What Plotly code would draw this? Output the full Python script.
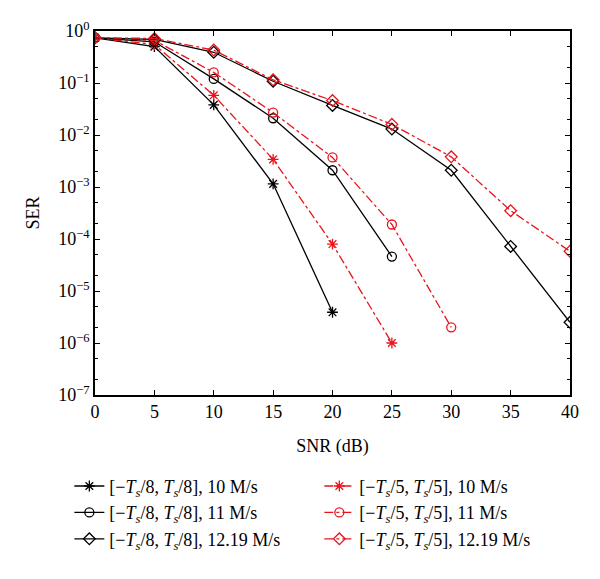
import plotly.graph_objects as go

snr = [0, 5, 10, 15, 20, 25, 30, 35, 40]

ser_b10 = [0.74, 0.50, 0.038, 1.15e-3, 3.9e-6]
ser_b11 = [0.74, 0.62, 0.12, 0.021, 2.1e-3, 4.6e-5]
ser_b12 = [0.74, 0.69, 0.39, 0.108, 0.037, 0.013, 2.1e-3, 7.2e-5, 2.5e-6]
ser_r10 = [0.74, 0.55, 0.058, 3.4e-3, 8.0e-5, 1.0e-6]
ser_r11 = [0.74, 0.66, 0.16, 0.027, 3.7e-3, 1.9e-4, 2.0e-6]
ser_r12 = [0.74, 0.72, 0.43, 0.115, 0.046, 0.016, 3.8e-3, 3.5e-4, 5.8e-5]

name_b = "[−<i>T</i><sub><i>s</i></sub>/8, <i>T</i><sub><i>s</i></sub>/8], "
name_r = "[−<i>T</i><sub><i>s</i></sub>/5, <i>T</i><sub><i>s</i></sub>/5], "
rates = ["10 M/s", "11 M/s", "12.19 M/s"]

ytick_vals = [1e0, 1e-1, 1e-2, 1e-3, 1e-4, 1e-5, 1e-6, 1e-7]
ytick_text = ["10<sup>0</sup>", "10<sup>−1</sup>", "10<sup>−2</sup>", "10<sup>−3</sup>",
              "10<sup>−4</sup>", "10<sup>−5</sup>", "10<sup>−6</sup>", "10<sup>−7</sup>"]

RED = "#e8141c"
FONT = "Liberation Serif"

fig = go.Figure()

series = [
    (ser_b10, "black", "solid", "asterisk-open", name_b + rates[0]),
    (ser_r10, RED, "dashdot", "asterisk-open", name_r + rates[0]),
    (ser_b11, "black", "solid", "circle-open", name_b + rates[1]),
    (ser_r11, RED, "dashdot", "circle-open", name_r + rates[1]),
    (ser_b12, "black", "solid", "diamond-open", name_b + rates[2]),
    (ser_r12, RED, "dashdot", "diamond-open", name_r + rates[2]),
]

for ys, col, dash, sym, nm in series:
    fig.add_trace(go.Scatter(
        x=snr[:len(ys)], y=ys, mode="lines+markers", name=nm,
        line=dict(color=col, width=1.3, dash=dash),
        marker=dict(symbol=sym, size=9, color=col, line=dict(color=col, width=1.3)),
    ))

fig.update_layout(
    width=592, height=571,
    margin=dict(l=87, r=30, t=23, b=184, autoexpand=False),
    paper_bgcolor="white", plot_bgcolor="white",
    font=dict(family=FONT, size=18, color="black"),
    showlegend=True,
    legend=dict(
        orientation="h", xref="paper", yref="paper",
        x=-0.054, y=-0.2, xanchor="left", yanchor="top",
        entrywidth=205, entrywidthmode="pixels",
        font=dict(family=FONT, size=18), tracegroupgap=0,
        bgcolor="rgba(0,0,0,0)",
    ),
)

fig.update_xaxes(
    range=[0, 40], tickvals=[0, 5, 10, 15, 20, 25, 30, 35, 40],
    ticks="inside", ticklen=5, tickcolor="black", mirror="ticks", automargin=False,
    showline=True, linecolor="black", linewidth=1.5, showgrid=False, zeroline=False,
    title=dict(text="SNR (dB)", font=dict(family=FONT, size=18), standoff=18),
    tickfont=dict(family=FONT, size=18),
)
fig.update_yaxes(
    type="log", range=[-7, 0], tickvals=ytick_vals, ticktext=ytick_text,
    ticks="inside", ticklen=5, tickcolor="black", mirror="ticks", automargin=False,
    showline=True, linecolor="black", linewidth=1.5, showgrid=False, zeroline=False,
    minor=dict(ticks="inside", ticklen=3, tickcolor="black", showgrid=False),
    title=dict(text="SER", font=dict(family=FONT, size=18), standoff=14),
    tickfont=dict(family=FONT, size=18),
)

fig.write_html("out.html")
